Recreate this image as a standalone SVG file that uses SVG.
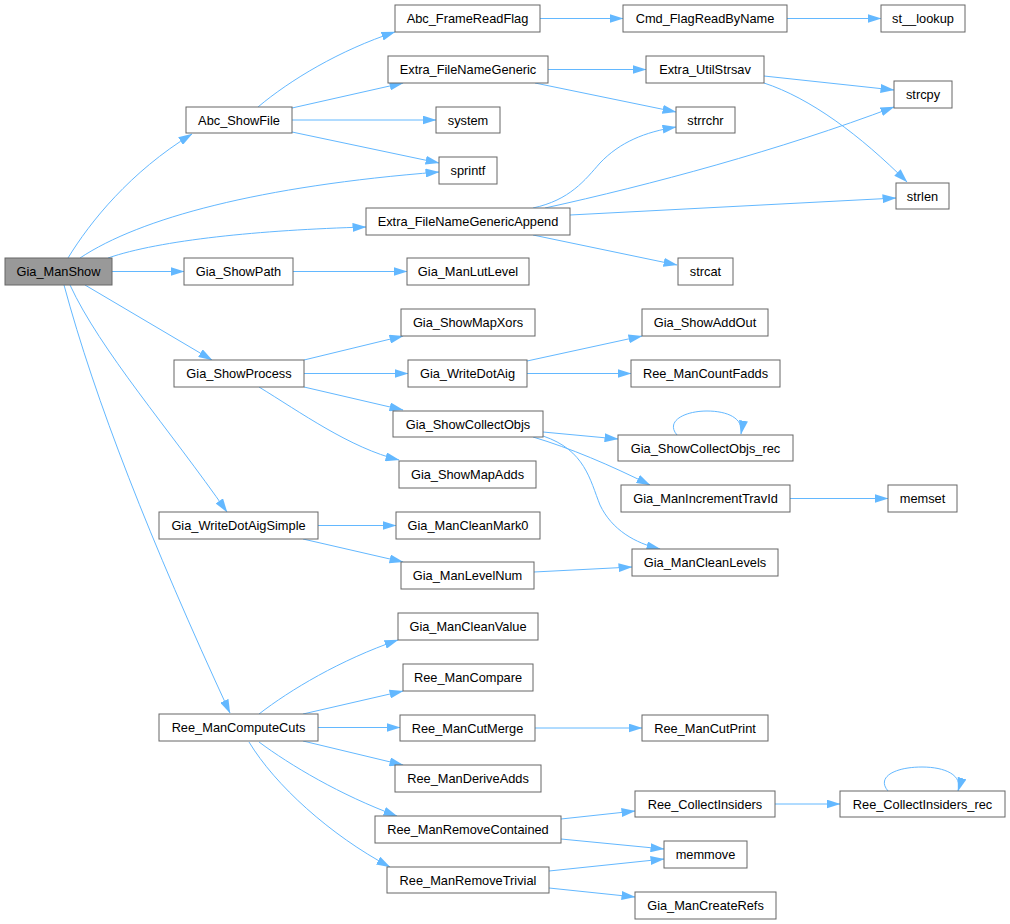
<svg xmlns="http://www.w3.org/2000/svg" width="1010" height="924" viewBox="0 0 1010 924">
<defs>
<marker id="ah" markerUnits="userSpaceOnUse" markerWidth="14" markerHeight="9" viewBox="0 0 14 9" refX="13.5" refY="4.5" orient="auto">
<path d="M0,0 L14,4.5 L0,9 z" fill="#63b8ff"/>
</marker>
<style>
.n rect{fill:#ffffff;stroke:#666666;stroke-width:1}
.n.hl rect{fill:#999999}
.n text{font-family:"Liberation Sans",Arial,sans-serif;font-size:12.8px;fill:#000;text-anchor:middle}
#edges path{fill:none;stroke:#63b8ff;stroke-width:1;marker-end:url(#ah)}
</style>
</defs>
<rect width="1010" height="924" fill="#ffffff"/>
<g id="edges">
<path d="M68,258 C90,222 130,172 192,134"/>
<path d="M80,258 C140,218 260,186 439,172"/>
<path d="M108,258 C160,240 260,230 366,227"/>
<path d="M112,271.5 L184,271.5"/>
<path d="M85,285 L212,360"/>
<path d="M70,285 C100,350 170,430 227,512"/>
<path d="M64,285 C95,400 150,540 230,713"/>
<path d="M258,107 C290,80 340,50 395,32"/>
<path d="M292,108 L403,83"/>
<path d="M292,120 L436,120"/>
<path d="M292,132 L439,163"/>
<path d="M540,18.5 L623,18.5"/>
<path d="M787,18.5 L881,18.5"/>
<path d="M548,69.5 L646,69.5"/>
<path d="M535,83 L676,112"/>
<path d="M764,76 L894,90"/>
<path d="M764,83 C810,98 860,135 907,182"/>
<path d="M533,208 C570,200 585,180 600,163 C620,142 645,132 676,127"/>
<path d="M545,208 C650,185 780,150 894,107"/>
<path d="M570,215 L896,198"/>
<path d="M533,235 L677,265"/>
<path d="M293,271.5 L407,271.5"/>
<path d="M304,360 L403,336"/>
<path d="M304,373.5 L408,373.5"/>
<path d="M304,387 L403,410"/>
<path d="M259,387 C300,412 350,448 399,460"/>
<path d="M527,361 L642,336"/>
<path d="M527,373.5 L631,373.5"/>
<path d="M543,432 L618,439"/>
<path d="M533,437 C570,448 610,465 650,485"/>
<path d="M543,436 C585,450 590,480 600,505 C612,530 635,543 660,549"/>
<path d="M677,435 C665,421 685,411 707,411 C727,411 744,418 741,434"/>
<path d="M790,498.5 L888,498.5"/>
<path d="M318,525.5 L396,525.5"/>
<path d="M303,539 L403,562"/>
<path d="M534,572 L632,567"/>
<path d="M259,714 C290,690 340,660 398,640"/>
<path d="M303,714 L403,691"/>
<path d="M318,727.5 L400,727.5"/>
<path d="M303,741 L403,765"/>
<path d="M259,742 C290,765 340,795 397,816"/>
<path d="M249,742 C275,785 330,835 390,867"/>
<path d="M535,728 L642,728"/>
<path d="M561,819 L635,811"/>
<path d="M561,839 L664,849"/>
<path d="M549,871 L664,859"/>
<path d="M549,888 L635,897"/>
<path d="M775,804 L840,804"/>
<path d="M888,791 C876,777 895,767 922,767 C945,767 963,775 958,791"/>
</g>
<g id="n_Gia_ManShow" class="n hl"><rect x="5" y="258" width="107" height="27"/><text x="58.5" y="276">Gia_ManShow</text></g>
<g id="n_Abc_ShowFile" class="n"><rect x="186" y="107" width="106" height="26"/><text x="239" y="124.5">Abc_ShowFile</text></g>
<g id="n_Gia_ShowPath" class="n"><rect x="184" y="258" width="109" height="27"/><text x="238.5" y="276">Gia_ShowPath</text></g>
<g id="n_Abc_FrameReadFlag" class="n"><rect x="395" y="5" width="145" height="27"/><text x="467.5" y="23">Abc_FrameReadFlag</text></g>
<g id="n_Cmd_FlagReadByName" class="n"><rect x="623" y="5" width="164" height="27"/><text x="705" y="23">Cmd_FlagReadByName</text></g>
<g id="n_st__lookup" class="n"><rect x="881" y="5" width="84" height="27"/><text x="923" y="23">st__lookup</text></g>
<g id="n_Extra_FileNameGeneric" class="n"><rect x="388" y="56" width="160" height="27"/><text x="468" y="74">Extra_FileNameGeneric</text></g>
<g id="n_Extra_UtilStrsav" class="n"><rect x="646" y="56" width="118" height="27"/><text x="705" y="74">Extra_UtilStrsav</text></g>
<g id="n_strcpy" class="n"><rect x="894" y="81" width="58" height="27"/><text x="923" y="99">strcpy</text></g>
<g id="n_system" class="n"><rect x="436" y="107" width="64" height="26"/><text x="468" y="124.5">system</text></g>
<g id="n_strrchr" class="n"><rect x="676" y="107" width="59" height="26"/><text x="705.5" y="124.5">strrchr</text></g>
<g id="n_sprintf" class="n"><rect x="439" y="157" width="58" height="27"/><text x="468" y="175">sprintf</text></g>
<g id="n_strlen" class="n"><rect x="896" y="183" width="53" height="26"/><text x="922.5" y="200.5">strlen</text></g>
<g id="n_Extra_FileNameGenericAppend" class="n"><rect x="366" y="208" width="204" height="27"/><text x="468" y="226">Extra_FileNameGenericAppend</text></g>
<g id="n_strcat" class="n"><rect x="678" y="258" width="55" height="27"/><text x="705.5" y="276">strcat</text></g>
<g id="n_Gia_ManLutLevel" class="n"><rect x="407" y="258" width="122" height="27"/><text x="468" y="276">Gia_ManLutLevel</text></g>
<g id="n_Gia_ShowProcess" class="n"><rect x="174" y="360" width="130" height="27"/><text x="239" y="378">Gia_ShowProcess</text></g>
<g id="n_Gia_WriteDotAigSimple" class="n"><rect x="159" y="512" width="159" height="27"/><text x="238.5" y="530">Gia_WriteDotAigSimple</text></g>
<g id="n_Gia_ShowMapXors" class="n"><rect x="401" y="309" width="134" height="27"/><text x="468" y="327">Gia_ShowMapXors</text></g>
<g id="n_Gia_WriteDotAig" class="n"><rect x="408" y="360" width="119" height="27"/><text x="467.5" y="378">Gia_WriteDotAig</text></g>
<g id="n_Gia_ShowCollectObjs" class="n"><rect x="393" y="411" width="150" height="26"/><text x="468" y="428.5">Gia_ShowCollectObjs</text></g>
<g id="n_Gia_ShowMapAdds" class="n"><rect x="399" y="461" width="137" height="27"/><text x="467.5" y="479">Gia_ShowMapAdds</text></g>
<g id="n_Gia_ManCleanMark0" class="n"><rect x="396" y="512" width="144" height="27"/><text x="468" y="530">Gia_ManCleanMark0</text></g>
<g id="n_Gia_ManLevelNum" class="n"><rect x="401" y="562" width="133" height="27"/><text x="467.5" y="580">Gia_ManLevelNum</text></g>
<g id="n_Gia_ShowAddOut" class="n"><rect x="642" y="309" width="126" height="27"/><text x="705" y="327">Gia_ShowAddOut</text></g>
<g id="n_Ree_ManCountFadds" class="n"><rect x="631" y="360" width="149" height="27"/><text x="705.5" y="378">Ree_ManCountFadds</text></g>
<g id="n_Gia_ShowCollectObjs_rec" class="n"><rect x="618" y="435" width="175" height="26"/><text x="705.5" y="452.5">Gia_ShowCollectObjs_rec</text></g>
<g id="n_Gia_ManIncrementTravId" class="n"><rect x="621" y="485" width="169" height="27"/><text x="705.5" y="503">Gia_ManIncrementTravId</text></g>
<g id="n_memset" class="n"><rect x="888" y="485" width="69" height="27"/><text x="922.5" y="503">memset</text></g>
<g id="n_Gia_ManCleanLevels" class="n"><rect x="632" y="549" width="146" height="27"/><text x="705" y="567">Gia_ManCleanLevels</text></g>
<g id="n_Ree_ManComputeCuts" class="n"><rect x="159" y="714" width="159" height="27"/><text x="238.5" y="732">Ree_ManComputeCuts</text></g>
<g id="n_Gia_ManCleanValue" class="n"><rect x="398" y="613" width="140" height="27"/><text x="468" y="631">Gia_ManCleanValue</text></g>
<g id="n_Ree_ManCompare" class="n"><rect x="403" y="664" width="130" height="27"/><text x="468" y="682">Ree_ManCompare</text></g>
<g id="n_Ree_ManCutMerge" class="n"><rect x="400" y="715" width="135" height="26"/><text x="467.5" y="732.5">Ree_ManCutMerge</text></g>
<g id="n_Ree_ManDeriveAdds" class="n"><rect x="395" y="765" width="146" height="27"/><text x="468" y="783">Ree_ManDeriveAdds</text></g>
<g id="n_Ree_ManRemoveContained" class="n"><rect x="375" y="816" width="186" height="27"/><text x="468" y="834">Ree_ManRemoveContained</text></g>
<g id="n_Ree_ManRemoveTrivial" class="n"><rect x="387" y="867" width="162" height="26"/><text x="468" y="884.5">Ree_ManRemoveTrivial</text></g>
<g id="n_Ree_ManCutPrint" class="n"><rect x="642" y="715" width="126" height="26"/><text x="705" y="732.5">Ree_ManCutPrint</text></g>
<g id="n_Ree_CollectInsiders" class="n"><rect x="635" y="791" width="140" height="26"/><text x="705" y="808.5">Ree_CollectInsiders</text></g>
<g id="n_Ree_CollectInsiders_rec" class="n"><rect x="840" y="791" width="165" height="26"/><text x="922.5" y="808.5">Ree_CollectInsiders_rec</text></g>
<g id="n_memmove" class="n"><rect x="664" y="841" width="83" height="27"/><text x="705.5" y="859">memmove</text></g>
<g id="n_Gia_ManCreateRefs" class="n"><rect x="635" y="892" width="141" height="27"/><text x="705.5" y="910">Gia_ManCreateRefs</text></g>
</svg>
